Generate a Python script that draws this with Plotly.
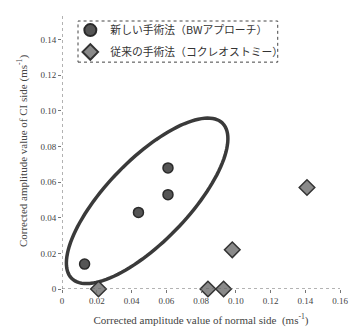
import numpy as np
import plotly.graph_objects as go

# Data
new_x = [0.013, 0.044, 0.061, 0.061]
new_y = [0.014, 0.043, 0.053, 0.068]
old_x = [0.021, 0.084, 0.093, 0.098, 0.141]
old_y = [0.000, 0.000, 0.000, 0.022, 0.057]
new_name = "新しい手術法（BWアプローチ）"
old_name = "従来の手術法（コクレオストミー）"
x_ticks = [0, 0.02, 0.04, 0.06, 0.08, 0.10, 0.12, 0.14, 0.16]
x_ticktext = ["0", "0.02", "0.04", "0.06", "0.08", "0.10", "0.12", "0.14", "0.16"]
y_ticks = [0, 0.02, 0.04, 0.06, 0.08, 0.10, 0.12, 0.14]
y_ticktext = ["0", "0.02", "0.04", "0.06", "0.08", "0.10", "0.12", "0.14"]

# Ellipse enclosing the new-method group (center, semi-axes, angle)
ell_cx, ell_cy = 0.049, 0.0495
ell_a, ell_b = 0.0615, 0.0232
ell_angle = np.deg2rad(45)

t = np.linspace(0, 2 * np.pi, 121)
ex = ell_cx + ell_a * np.cos(t) * np.cos(ell_angle) - ell_b * np.sin(t) * np.sin(ell_angle)
ey = ell_cy + ell_a * np.cos(t) * np.sin(ell_angle) + ell_b * np.sin(t) * np.cos(ell_angle)
path = "M " + " L ".join(f"{a:.5f},{b:.5f}" for a, b in zip(ex, ey)) + " Z"

serif = "Liberation Serif"
cjk = "Noto Sans CJK JP"
y_max = 0.155

fig = go.Figure()
fig.add_trace(go.Scatter(
    x=new_x, y=new_y, mode="markers", name=new_name, legend="legend",
    marker=dict(symbol="circle", size=10, color="#555555",
                line=dict(color="#2a2a2a", width=1.5)),
))
fig.add_trace(go.Scatter(
    x=old_x, y=old_y, mode="markers", name=old_name, legend="legend2",
    marker=dict(symbol="diamond", size=12, color="#8a8a8a",
                line=dict(color="#333333", width=1.5)),
    cliponaxis=False,
))

fig.add_shape(type="path", path=path, xref="x", yref="y",
              line=dict(color="#3a3a3a", width=3.5), layer="below")
# dotted axis lines
fig.add_shape(type="line", xref="x", yref="y", x0=0, x1=0.16, y0=0, y1=0,
              line=dict(color="#666666", width=1, dash="dot"))
fig.add_shape(type="line", xref="x", yref="y", x0=0, x1=0, y0=0, y1=y_max,
              line=dict(color="#666666", width=1, dash="dot"))
# legend box (dotted)
fig.add_shape(type="rect", xref="paper", yref="paper", x0=0.0576, x1=0.776,
              y0=0.822, y1=0.971, line=dict(color="#444444", width=1, dash="dot"))

legend_style = dict(xanchor="left", yanchor="middle",
                    bgcolor="rgba(0,0,0,0)", borderwidth=0,
                    font=dict(family=cjk, size=10.8, color="#333333"),
                    itemsizing="constant")

fig.update_layout(
    width=349, height=327,
    margin=dict(l=62, r=9, t=13, b=38),
    paper_bgcolor="white", plot_bgcolor="white",
    showlegend=True,
    legend=dict(x=0.03, y=0.938, **legend_style),
    legend2=dict(x=0.03, y=0.859, **legend_style),
    xaxis=dict(range=[0, 0.16], tickvals=x_ticks, ticktext=x_ticktext,
               automargin=False,
               showgrid=False, zeroline=False, showline=False,
               ticks="outside", ticklen=3, tickcolor="#777777",
               tickfont=dict(family=serif, size=9, color="#444444"),
               title=dict(text="Corrected amplitude value of normal side  (ms<sup>-1</sup>)",
                          font=dict(family=serif, size=11, color="#444444"), standoff=12)),
    yaxis=dict(range=[0, y_max], tickvals=y_ticks, ticktext=y_ticktext,
               automargin=False,
               showgrid=False, zeroline=False, showline=False,
               ticks="outside", ticklen=3, tickcolor="#777777",
               tickfont=dict(family=serif, size=9, color="#444444"),
               title=dict(text="Corrected amplitude value of CI side (ms<sup>-1</sup>)",
                          font=dict(family=serif, size=11, color="#444444"), standoff=10)),
)

fig.write_html("out.html", config={"displayModeBar": False},
               post_script="document.body.style.margin='0';")
